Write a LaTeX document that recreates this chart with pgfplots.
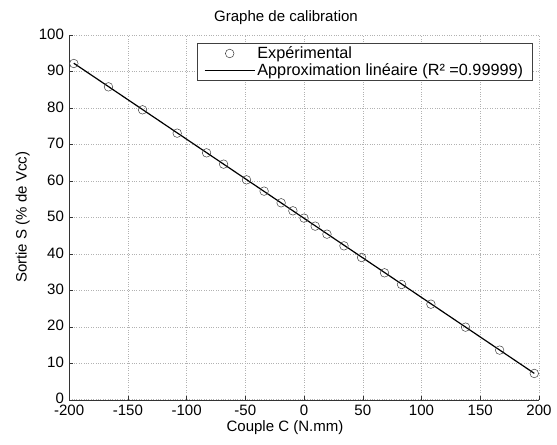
\documentclass[border=0pt]{standalone}
\usepackage{pgfplots}
\pgfplotsset{compat=1.18}
\usepackage{fontspec}
\setmainfont{Liberation Sans}
\pgfplotsset{
  mylegcirc/.style={legend image code/.code={\draw[##1] plot coordinates {(0.88cm,0cm)};}},
  mylegline/.style={legend image code/.code={\draw[##1] (0cm,0cm) -- (1.76cm,0cm);}},
}
\begin{document}
\fontsize{15}{18}\selectfont
\begin{tikzpicture}
\begin{axis}[
  name=ax,
  scale only axis,
  width=469pt, height=364pt,
  xmin=-200, xmax=200, ymin=0, ymax=100,
  xtick={-200,-150,...,200}, ytick={0,10,...,100},
  axis x line*=bottom, axis y line*=left,
  axis line style={black!80},
  tick align=inside, major tick length=4pt,
  tick style={black!80},
  grid=major,
  major grid style={dotted, black!30, line width=0.5pt},
  /pgf/number format/assume math mode=true,
  ticklabel style={font=\fontsize{15}{18}\selectfont},
  xticklabel style={yshift=0pt},
  yticklabel style={yshift=1pt},
  title={Graphe de calibration},
  title style={yshift=-1pt, xshift=-18pt},
  xlabel={Couple C (N.mm)},
  ylabel={Sortie S (\% de Vcc)},
  xlabel style={yshift=5pt, xshift=-19pt},
  ylabel style={yshift=-1pt},
  legend cell align=left,
  legend style={at={(rel axis cs:0.986,0.978)}, anchor=north east,
    draw=black!75, line width=0.6pt, inner xsep=7pt, inner ysep=1pt,
    font=\fontsize{16.2}{19}\selectfont, row sep=-1.5pt},
]
\addplot[only marks, mark=o, mark size=4.3pt, mark options={black!75, line width=0.5pt}, mylegcirc]
coordinates {
(-196,92.2) (-166.5,85.8) (-137.5,79.5) (-108,73.1) (-83,67.7) (-68.5,64.6)
(-49,60.3) (-34,57.2) (-19.5,54.0) (-9.5,51.8) (0,49.8) (9.5,47.6)
(19.5,45.4) (34,42.2) (49,39.0) (68.5,34.8) (83,31.6) (108,26.2)
(137.5,19.9) (166.5,13.6) (196,7.2)
};
\addlegendentry{Expérimental}
\addplot[black, line width=1.2pt, mylegline]
coordinates {(-196,92.27) (196,7.23)};
\addlegendentry{Approximation linéaire (R² =0.99999)}
\end{axis}
\pgfresetboundingbox
\path ([xshift=-69pt,yshift=-45pt]ax.south west) rectangle ([xshift=18pt,yshift=35pt]ax.north east);
\end{tikzpicture}
\end{document}
